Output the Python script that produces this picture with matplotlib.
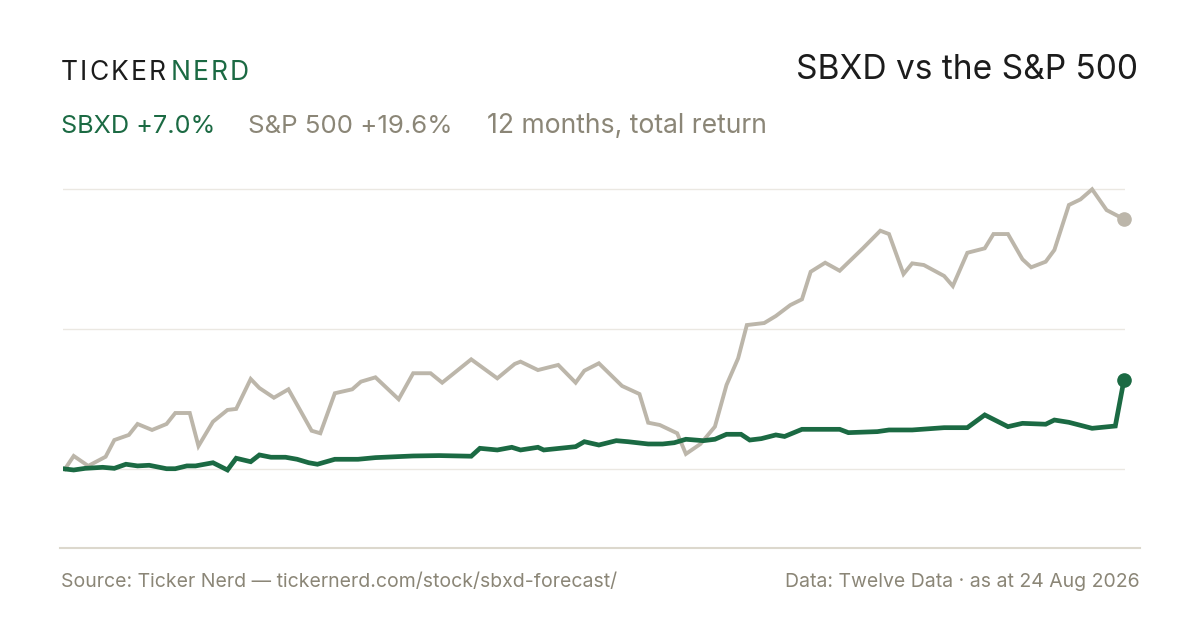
import matplotlib
matplotlib.use("Agg")
import matplotlib.pyplot as plt
from matplotlib.lines import Line2D

plt.rcParams['font.family'] = ['Inter', 'DejaVu Sans']

# S&P 500 total return, % (day offset over the 12 months)
spx_days = [0, 3, 8, 14, 17, 22, 25, 30, 35, 38, 43, 46, 51, 56, 59, 64, 67, 72, 77, 81,
            85, 88, 93, 99, 102, 107, 115, 120, 126, 130, 140, 149, 155, 157, 163, 170,
            176, 179, 184, 192, 198, 201, 205, 211, 214, 219, 224, 228, 232, 235, 241,
            245, 250, 254, 257, 262, 267, 275, 281, 284, 289, 292, 296, 303, 306, 311,
            317, 320, 325, 330, 333, 338, 341, 346, 350, 354, 359, 365]
spx_ret = [0.0, 1.02, 0.24, 0.96, 2.27, 2.67, 3.53, 3.06, 3.53, 4.39, 4.39, 1.80, 3.71,
           4.63, 4.71, 7.06, 6.35, 5.59, 6.25, 4.63, 3.00, 2.80, 5.94, 6.25, 6.85, 7.19,
           5.47, 7.51, 7.51, 6.77, 8.60, 7.11, 8.24, 8.42, 7.76, 8.16, 6.77, 7.71, 8.29,
           6.51, 5.88, 3.63, 3.45, 2.80, 1.18, 1.96, 3.32, 6.59, 8.68, 11.29, 11.45,
           12.00, 12.86, 13.31, 15.47, 16.18, 15.55, 17.31, 18.69, 18.43, 15.29, 16.13,
           16.00, 15.14, 14.35, 16.96, 17.31, 18.43, 18.43, 16.45, 15.82, 16.26, 17.18,
           20.71, 21.15, 21.94, 20.31, 19.6]

# SBXD total return, %
sbxd_days = [0, 3, 7, 13, 17, 21, 25, 29, 35, 38, 42, 45, 51, 56, 59, 64, 67, 71, 76, 80,
             84, 87, 93, 101, 107, 114, 120, 129, 140, 143, 149, 154, 157, 163, 165, 176,
             179, 184, 190, 194, 201, 206, 210, 214, 220, 224, 228, 233, 236, 240, 245,
             248, 254, 267, 270, 280, 284, 292, 303, 311, 317, 325, 330, 338, 341, 346,
             354, 362, 365]
sbxd_ret = [0.0, -0.08, 0.05, 0.13, 0.05, 0.37, 0.24, 0.29, 0.02, 0.02, 0.24, 0.24, 0.49,
            -0.08, 0.84, 0.57, 1.10, 0.92, 0.92, 0.76, 0.49, 0.37, 0.76, 0.76, 0.89, 0.96,
            1.02, 1.05, 1.0, 1.62, 1.49, 1.70, 1.49, 1.70, 1.49, 1.75, 2.14, 1.88, 2.22,
            2.14, 1.96, 1.96, 2.06, 2.33, 2.22, 2.33, 2.72, 2.72, 2.27, 2.38, 2.67, 2.55,
            3.11, 3.11, 2.85, 2.93, 3.06, 3.06, 3.24, 3.24, 4.24, 3.32, 3.58, 3.51, 3.84,
            3.66, 3.19, 3.37, 7.0]

grid_vals = [0, 11, 22]

GREEN = "#1b6a43"
GREY_LINE = "#bcb6aa"
GREY_TEXT = "#8b8677"
DARK = "#1c1c1c"

W, H = 1200, 630
fig = plt.figure(figsize=(12, 6.3), dpi=100)
fig.patch.set_facecolor("white")

# axes: 63..1125 px wide, 180..548 px tall
ax = fig.add_axes([63 / W, (H - 548) / H, (1125 - 63) / W, (548 - 180) / H])
ax.set_xlim(-0.69, 365.34)
ax.set_ylim(-6.2, 22.67)
ax.axis("off")

for g in grid_vals:
    ax.axhline(g, color="#ebe8e2", lw=1.0, zorder=1)

ax.plot(spx_days, spx_ret, color=GREY_LINE, lw=2.8, solid_joinstyle="miter", zorder=2)
ax.plot(sbxd_days, sbxd_ret, color=GREEN, lw=3.4, solid_joinstyle="miter", zorder=3)
ax.plot(spx_days[-1], spx_ret[-1], "o", color=GREY_LINE, ms=9.5, zorder=4, clip_on=False)
ax.plot(sbxd_days[-1], sbxd_ret[-1], "o", color=GREEN, ms=9.5, zorder=4, clip_on=False)

# bottom rule
fig.add_artist(Line2D([60 / W, 1140 / W], [(H - 548) / H] * 2, color="#dcd8cd", lw=1.5))


def fy(py):
    return (H - py) / H


# letter-spaced wordmark
renderer = fig.canvas.get_renderer()
x = 61
for i, ch in enumerate("TICKER NERD"):
    col = DARK if i < 6 else GREEN
    if ch == " ":
        x += 3
        continue
    t = fig.text(x / W, fy(80), ch, fontsize=19, color=col, va="baseline", ha="left")
    bb = t.get_window_extent(renderer)
    x += bb.width + 2.1

fig.text(1138 / W, fy(79), "SBXD vs the S&P 500", fontsize=24.1, color=DARK,
         ha="right", va="baseline")

fig.text(61 / W, fy(133), "SBXD +7.0%", fontsize=18.2, color=GREEN, va="baseline")
fig.text(248 / W, fy(133), "S&P 500 +19.6%", fontsize=18.6, color=GREY_TEXT, va="baseline")
fig.text(487 / W, fy(133), "12 months, total return", fontsize=19.1, color=GREY_TEXT,
         va="baseline")

fig.text(61 / W, fy(587), "Source: Ticker Nerd — tickernerd.com/stock/sbxd-forecast/",
         fontsize=14, color=GREY_TEXT, va="baseline")
fig.text(1140 / W, fy(587), "Data: Twelve Data · as at 24 Aug 2026", fontsize=14,
         color=GREY_TEXT, ha="right", va="baseline")

fig.savefig("out.png", dpi=100, facecolor="white")
